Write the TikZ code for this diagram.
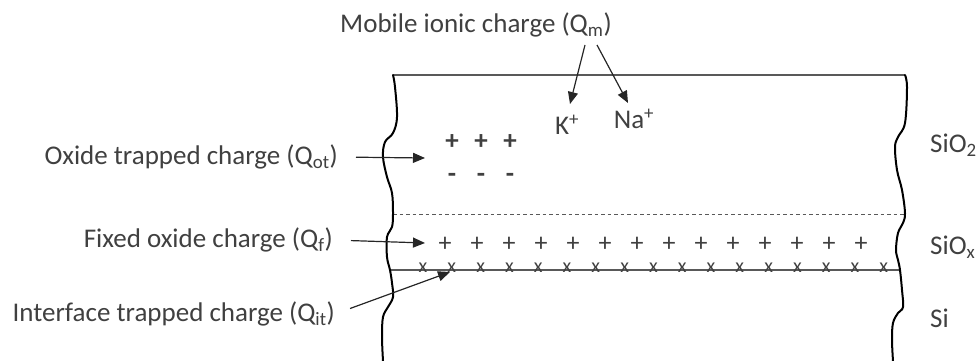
\documentclass[tikz,border=0pt]{standalone}
\usepackage{fontspec}
\setmainfont{Carlito}
\usetikzlibrary{arrows.meta, positioning}
\definecolor{txtgray}{HTML}{404040}

\begin{document}
\begin{tikzpicture}[x=1pt, y=-1pt,
    lbl/.style={font=\fontsize{27}{32}\selectfont, text=txtgray, inner sep=0pt},
    chg/.style={font=\fontsize{26}{30}\selectfont, text=txtgray, inner sep=0pt},
    xmark/.style={font=\fontsize{20}{24}\selectfont, text=txtgray, inner sep=0pt},
    charrow/.style={draw=black!85, line width=1.2pt, -{Triangle[length=12pt, width=10pt]}},
    wavyedge/.style={line width=2pt, line cap=round, black},
    layerline/.style={draw=black!65, line width=1.4pt}]
  \useasboundingbox (0,0) rectangle (977,361);

  % layer boundaries
  \draw[layerline] (393,75) -- (905,75);
  \draw[layerline, line width=1pt, dash pattern=on 3.5pt off 3pt] (393,214) -- (905,214);
  \draw[layerline] (390,270) -- (900,270);

  % broken edges of the cut
  \draw[wavyedge] plot[smooth, tension=0.6] coordinates {(393,75) (395,87) (397,117) (393,133) (385,142) (383,157) (387,177) (392,193) (393,213) (392,227) (387,237) (387,257) (390,270) (392,283) (393,297) (388,307) (383,317) (382,337) (383,361)};
  \draw[wavyedge] plot[smooth, tension=0.6] coordinates {(905,75) (907,87) (905,123) (898,137) (895,147) (897,170) (902,190) (905,213) (903,223) (898,233) (896,250) (898,260) (900,270) (902,290) (903,307) (898,313) (893,323) (892,340) (893,361)};

  % layer names
  \node[lbl, anchor=west] (sio2) at (930,145) {SiO\textsubscript{2}};
  \node[lbl, anchor=west] (siox) at (930,247) {SiO\textsubscript{x}};
  \node[lbl, anchor=west] (si) at (930,318) {Si};

  % mobile ions
  \node[lbl] (mob) at (476,25) {Mobile ionic charge (Q\textsubscript{m})};
  \node[lbl] (kion) at (567,125) {K\textsuperscript{+}};
  \node[lbl] (naion) at (634,119) {Na\textsuperscript{+}};
  \coordinate (kstart) at (585,45);
  \coordinate (nastart) at (597,45);
  \coordinate (ktip) at (570,104);
  \coordinate (natip) at (628,103);
  \draw[charrow] (kstart) -- (ktip);
  \draw[charrow] (nastart) -- (natip);

  % oxide trapped charge
  \foreach \x in {452,481,510} {
    \node[chg, font=\fontsize{27}{30}\selectfont\bfseries] at (\x,142) {+};
    \node[chg, font=\fontsize{27}{30}\selectfont\bfseries] at (\x,178) {-};
  }
  \node[lbl, anchor=east] (qot) at (338,157) {Oxide trapped charge (Q\textsubscript{ot})};
  \coordinate (ottip) at (425,158);
  \draw[charrow, shorten <=18pt] (qot.east) -- (ottip);

  % fixed oxide charge
  \foreach \i in {0,...,13}
    \node[chg] at (445+32*\i,244) {+};
  \node[lbl, anchor=east] (qf) at (333,240) {Fixed oxide charge (Q\textsubscript{f})};
  \coordinate (ftip) at (425,243);
  \draw[charrow, shorten <=18pt] (qf.east) -- (ftip);

  % interface trapped charge
  \foreach \i in {0,...,16}
    \node[xmark] at (423+28.8*\i,268) {x};
  \node[lbl, anchor=east] (qit) at (335,314) {Interface trapped charge (Q\textsubscript{it})};
  \coordinate (ittip) at (450,272);
  \draw[charrow, shorten <=16pt] (qit.east) -- (ittip);
\end{tikzpicture}
\end{document}
